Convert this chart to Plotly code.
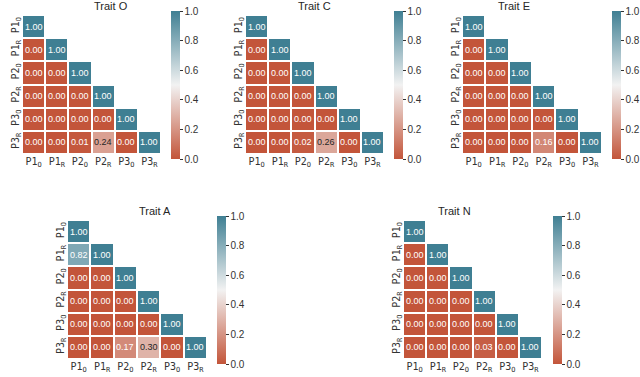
import plotly.graph_objects as go

# --- Data ---
LABELS = ["P1<sub>O</sub>", "P1<sub>R</sub>", "P2<sub>O</sub>", "P2<sub>R</sub>", "P3<sub>O</sub>", "P3<sub>R</sub>"]
TRAITS = ["O", "C", "E", "A", "N"]

# lower triangle rows (row i has i+1 values)
TRAIT_O = [[1.00], [0.00, 1.00], [0.00, 0.00, 1.00], [0.00, 0.00, 0.00, 1.00],
           [0.00, 0.00, 0.00, 0.00, 1.00], [0.00, 0.00, 0.01, 0.24, 0.00, 1.00]]
TRAIT_C = [[1.00], [0.00, 1.00], [0.00, 0.00, 1.00], [0.00, 0.00, 0.00, 1.00],
           [0.00, 0.00, 0.00, 0.00, 1.00], [0.00, 0.00, 0.02, 0.26, 0.00, 1.00]]
TRAIT_E = [[1.00], [0.00, 1.00], [0.00, 0.00, 1.00], [0.00, 0.00, 0.00, 1.00],
           [0.00, 0.00, 0.00, 0.00, 1.00], [0.00, 0.00, 0.00, 0.16, 0.00, 1.00]]
TRAIT_A = [[1.00], [0.82, 1.00], [0.00, 0.00, 1.00], [0.00, 0.00, 0.00, 1.00],
           [0.00, 0.00, 0.00, 0.00, 1.00], [0.00, 0.00, 0.17, 0.30, 0.00, 1.00]]
TRAIT_N = [[1.00], [0.00, 1.00], [0.00, 0.00, 1.00], [0.00, 0.00, 0.00, 1.00],
           [0.00, 0.00, 0.00, 0.00, 1.00], [0.00, 0.00, 0.00, 0.03, 0.00, 1.00]]
VALUES = [TRAIT_O, TRAIT_C, TRAIT_E, TRAIT_A, TRAIT_N]

# --- Layout (pixel boxes: grid x0,x1,y0,y1 ; colorbar x, y0, y1) ---
W, H = 640, 377
GRIDS = [(22, 161, 15, 154), (245, 384, 15, 154), (462, 602, 15, 154),
         (67, 207, 220, 359), (403, 542, 220, 359)]
CBARS = [(171, 11, 159), (394, 11, 159), (612, 11, 159), (217, 216, 364), (553, 216, 364)]

SCALE = [[0.0, "#c3553a"], [0.5, "#f2f2f2"], [1.0, "#3f7f93"]]
TICKFONT = dict(family="DejaVu Sans Mono", size=10, color="#333333")

fig = go.Figure()
annotations = []
for i, (trait, rows) in enumerate(zip(TRAITS, VALUES)):
    n = len(LABELS)
    z = [[rows[r][c] if c <= r else None for c in range(n)] for r in range(n)]
    x0, x1, y0, y1 = GRIDS[i]
    cx, cy0, cy1 = CBARS[i]
    xa = "x" if i == 0 else f"x{i+1}"
    ya = "y" if i == 0 else f"y{i+1}"
    fig.add_trace(go.Heatmap(
        z=z, x=LABELS, y=LABELS, xaxis=xa, yaxis=ya,
        zmin=0, zmax=1, colorscale=SCALE, xgap=2, ygap=2, hoverongaps=False,
        colorbar=dict(x=cx / W, xanchor="left", xpad=0, y=1 - (cy0 + cy1) / 2 / H, yanchor="middle",
                      len=cy1 - cy0, lenmode="pixels", thickness=9, ypad=0, outlinewidth=0,
                      tickvals=[0, 0.2, 0.4, 0.6, 0.8, 1.0], ticktext=["0.0", "0.2", "0.4", "0.6", "0.8", "1.0"],
                      ticks="outside", ticklen=3, tickcolor="#333333",
                      tickfont=dict(family="Liberation Sans", size=10, color="#333333"))))
    ax = dict(domain=[x0 / W, x1 / W], anchor=ya, showgrid=False, zeroline=False, showline=False,
              tickfont=TICKFONT, ticks="", automargin=False, fixedrange=True)
    ay = dict(domain=[1 - y1 / H, 1 - y0 / H], anchor=xa, showgrid=False, zeroline=False, showline=False,
              tickfont=TICKFONT, ticks="", autorange="reversed", tickangle=-90, automargin=False, fixedrange=True)
    fig.update_layout(**{("xaxis" if i == 0 else f"xaxis{i+1}"): ax,
                         ("yaxis" if i == 0 else f"yaxis{i+1}"): ay})
    for r in range(n):
        for c in range(r + 1):
            v = rows[r][c]
            annotations.append(dict(x=LABELS[c], y=LABELS[r], xref=xa, yref=ya, text=f"{v:.2f}", showarrow=False,
                                    font=dict(family="Liberation Sans", size=9,
                                              color="#262626" if 0.2 < v < 0.8 else "white")))
    annotations.append(dict(x=(x0 + x1) / 2 / W, y=1 - (y0 - 9) / H, xref="paper", yref="paper",
                            text=f"Trait {trait}", showarrow=False, yanchor="middle",
                            font=dict(family="Liberation Sans", size=11, color="#262626")))

fig.update_layout(width=W, height=H, margin=dict(l=0, r=0, t=0, b=0),
                  paper_bgcolor="white", plot_bgcolor="white", annotations=annotations,
                  showlegend=False)
# drop the browser's default body margin so the figure sits at the window's corner
fig.write_html("out.html", config={"displayModeBar": False},
               post_script="document.body.style.margin='0';document.body.style.overflow='hidden';")
